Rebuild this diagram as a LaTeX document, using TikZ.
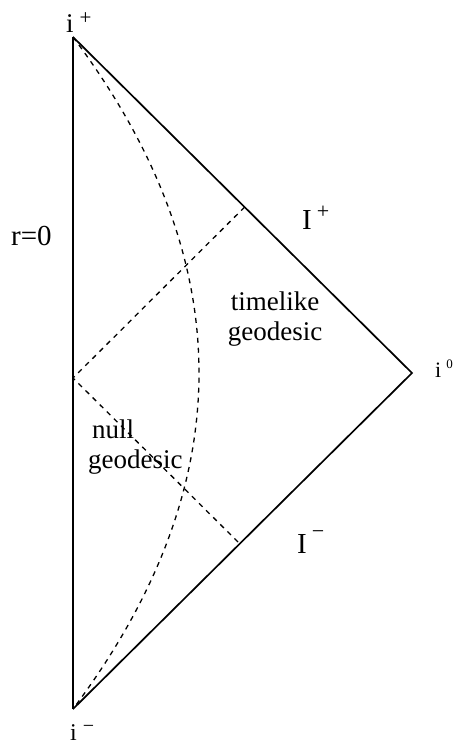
\documentclass[tikz,border=0pt]{standalone}
\usepackage{fontspec}
\setmainfont{Liberation Serif}
\newcommand{\raisedsym}[4]{\hspace{#3}\raisebox{#2}{\fontsize{#1}{#1}\selectfont #4}}
\begin{document}
\begin{tikzpicture}[x=1pt,y=-1pt,
  edge/.style={line width=1.7pt,line join=miter},
  geo/.style={line width=1.3pt,dash pattern=on 5pt off 5pt},
  lbl/.style={inner sep=0pt,font=\fontsize{27}{30}\selectfont}]
\useasboundingbox (0,0) rectangle (458,746);
% vertices
\coordinate (ip) at (73,37);
\coordinate (iz) at (412,373);
\coordinate (im) at (73,709);
\coordinate (o) at (73,378);
\coordinate (a) at (244.7,207);
\coordinate (b) at (239.8,543.8);
\coordinate (c1) at (241,261);
\coordinate (c2) at (241,485);
% boundary
\draw[edge] (ip) -- (iz) -- (im);
\draw[line width=1.6pt] (ip) -- (im);
% null geodesic
\draw[geo] (a) -- (o) -- (b);
% timelike geodesic
\draw[geo] (ip) .. controls (c1) and (c2) .. (im);
% labels
\node[lbl,anchor=base west,font=\fontsize{29}{30}\selectfont] (r0) at (11,245) {r=0};
\node[lbl,anchor=base west,font=\fontsize{29}{30}\selectfont] (scrip) at (302,229) {I\raisedsym{22}{11pt}{5pt}{+}};
\node[lbl,anchor=base west,font=\fontsize{29}{30}\selectfont] (scrim) at (297,553) {I\raisedsym{22}{15pt}{5pt}{−}};
\node[lbl,anchor=base west] (iplus) at (66,33) {i\raisedsym{21}{8pt}{6pt}{+}};
\node[lbl,anchor=base west,font=\fontsize{24}{26}\selectfont] (iminus) at (70,740) {i\raisedsym{20}{8pt}{6pt}{−}};
\node[lbl,anchor=base west,font=\fontsize{22}{24}\selectfont] (izero) at (435,377) {i\raisedsym{13}{9pt}{5pt}{0}};
\node[lbl,align=center,anchor=base] (tl) at (275,340) {timelike\\geodesic};
\node[lbl,align=left,anchor=base west] (nl) at (88,468) {\hspace{4pt}null\\geodesic};
\end{tikzpicture}
\end{document}
